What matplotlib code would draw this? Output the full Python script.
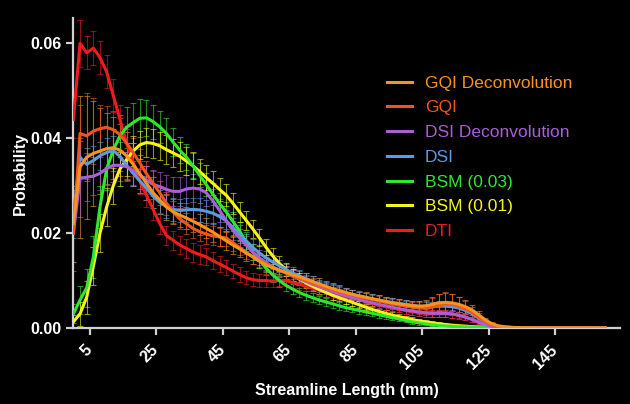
import matplotlib.pyplot as plt
import matplotlib.colors as mcolors

# streamline length bins (mm), probabilities given in units of 1e-3
lengths = list(range(0, 162, 2))

names = ['GQI Deconvolution', 'GQI', 'DSI Deconvolution', 'DSI',
         'BSM (0.03)', 'BSM (0.01)', 'DTI']
colors = ['#F7941D', '#F2541E', '#A95FD8', '#5B9BE0',
          '#2EE82E', '#F5F51A', '#EE1C1C']

gqi_dec = [22, 34, 36, 36.8, 37.3, 37.8, 38, 37.5, 36.3, 34.5,
           32.5, 30.5, 28.5, 27, 25.5, 24.5, 23.8, 23.2, 22.5, 21.8,
           21, 20.2, 19.3, 18.4, 17.5, 16.7, 15.8, 15, 14.1, 13.3,
           12.7, 12.2, 11.7, 11.2, 10.8, 10.3, 9.8, 9.3, 8.8, 8.3,
           7.9, 7.5, 7.1, 6.8, 6.5, 6.2, 5.9, 5.6, 5.3, 5.1,
           4.9, 4.7, 4.6, 4.7, 5, 5.3, 5.4, 5.3, 5, 4.5,
           3.8, 2.8, 1.7, 0.9, 0.45, 0.25, 0.15, 0.1, 0.06, 0.04,
           0.02, 0.02, 0.02, 0.02, 0.02, 0.02, 0.02, 0.02, 0.02, 0.02, 0.02]
gqi = [20, 41, 40.5, 41.5, 42, 42.3, 41.8, 40.8, 39, 37,
       34.8, 32.5, 30.5, 28.5, 26.3, 24.5, 23, 22, 21, 20.3,
       19.8, 19.4, 19.2, 19, 18, 17, 16, 15, 14.2, 13.5,
       12.8, 12.2, 11.6, 11, 10.5, 10, 9.5, 9, 8.5, 8.1,
       7.7, 7.3, 7, 6.6, 6.3, 6, 5.7, 5.4, 5.1, 4.9,
       4.6, 4.4, 4.2, 4.2, 4.4, 4.7, 5, 5, 4.6, 4,
       3.3, 2.3, 1.4, 0.7, 0.35, 0.2, 0.12, 0.08, 0.05, 0.03,
       0.02, 0.02, 0.02, 0.02, 0.02, 0.02, 0.02, 0.02, 0.02, 0.02, 0.02]
dsi_dec = [20, 31.5, 31.8, 32, 32.6, 33.6, 34.3, 34.3, 34, 33.2,
           32.3, 31.2, 30.3, 29.8, 29.2, 28.8, 28.8, 29.3, 29.5, 29.3,
           28.5, 26.8, 24.8, 22.6, 20.6, 19, 17.5, 16, 14.8, 13.8,
           12.9, 12.2, 11.6, 11, 10.4, 9.8, 9.2, 8.7, 8.2, 7.7,
           7.2, 6.8, 6.4, 6, 5.6, 5.3, 5, 4.7, 4.4, 4.1,
           3.8, 3.6, 3.4, 3.2, 3.1, 3.1, 3.1, 3, 2.7, 2.3,
           1.8, 1.2, 0.7, 0.35, 0.18, 0.1, 0.06, 0.04, 0.03, 0.02,
           0.01, 0.01, 0.01, 0.01, 0.01, 0.01, 0.01, 0.01, 0.01, 0.01, 0.01]
dsi = [24, 36, 34.5, 35.3, 36.3, 37, 37.4, 36.2, 34.3, 32.6,
       31, 29.5, 27.8, 26.5, 25.6, 25, 24.8, 24.9, 25, 24.9,
       24.6, 24.2, 23.5, 22.6, 21.2, 19.8, 18.4, 17, 15.8, 14.8,
       13.9, 13.1, 12.3, 11.6, 11, 10.4, 9.8, 9.2, 8.7, 8.2,
       7.8, 7.4, 7, 6.7, 6.4, 6.1, 5.9, 5.6, 5.4, 5.2,
       5, 4.8, 4.6, 4.5, 4.5, 4.6, 4.6, 4.5, 4.2, 3.7,
       3, 2.1, 1.3, 0.7, 0.35, 0.18, 0.1, 0.06, 0.04, 0.02,
       0.01, 0.01, 0.01, 0.01, 0.01, 0.01, 0.01, 0.01, 0.01, 0.01, 0.01]
bsm03 = [3, 5.9, 8.5, 15, 25.5, 33.5, 37.5, 40.5, 42.3, 43.3,
         44.2, 44.3, 43.5, 42.4, 41, 39.2, 37.5, 36, 34.2, 32.2,
         30.2, 28.2, 26.2, 24.5, 22.5, 20.5, 18, 16, 14.3, 12.6,
         11.2, 10, 9, 8.2, 7.5, 6.9, 6.4, 5.9, 5.5, 5.1,
         4.7, 4.3, 4, 3.7, 3.4, 3.1, 2.8, 2.5, 2.2, 1.9,
         1.6, 1.3, 1.1, 0.9, 0.7, 0.55, 0.45, 0.35, 0.28, 0.22,
         0.17, 0.13, 0.1, 0.08, 0.06, 0.05, 0.04, 0.03, 0.02, 0.02,
         0.01, 0.01, 0.01, 0.01, 0.01, 0.01, 0.01, 0.01, 0.01, 0.01, 0.01]
bsm01 = [1.3, 3, 6.5, 13, 20, 25.5, 30, 33.5, 35.5, 37.3,
         38.6, 39.1, 38.9, 38.4, 37.6, 36.9, 36.2, 35.2, 34.2, 33,
         31.7, 30.5, 29.2, 28, 26.3, 24.5, 22.7, 20.9, 19, 17,
         15.2, 13.6, 12.3, 11.2, 10.3, 9.5, 8.8, 8.1, 7.5, 6.9,
         6.4, 5.9, 5.4, 4.9, 4.4, 3.9, 3.5, 3.1, 2.7, 2.4,
         2.1, 1.8, 1.5, 1.3, 1.1, 0.9, 0.75, 0.6, 0.5, 0.4,
         0.3, 0.25, 0.2, 0.15, 0.12, 0.1, 0.08, 0.06, 0.05, 0.04,
         0.02, 0.02, 0.02, 0.02, 0.02, 0.02, 0.02, 0.02, 0.02, 0.02, 0.02]
dti = [44, 60, 58, 59, 57, 54, 49, 44, 39, 35,
       31, 28, 25, 22, 19.5, 18.5, 17.5, 16.8, 16, 15.5,
       15, 14.2, 13.5, 12.8, 12, 11.3, 10.6, 10.2, 10, 10,
       9.9, 10, 10, 9.6, 9.2, 8.8, 8.4, 8, 7.6, 7.2,
       6.9, 6.6, 6.3, 6, 5.6, 5.2, 4.8, 4.5, 4.2, 4,
       3.7, 3.4, 3.2, 3.1, 3.0, 3.0, 3.0, 2.9, 2.7, 2.3,
       1.8, 1.2, 0.7, 0.35, 0.15, 0.08, 0.05, 0.03, 0.02, 0.01,
       0, 0, 0, 0, 0, 0, 0, 0, 0, 0, 0]

# error bars (same units)
gqi_dec_err = [8, 15, 13, 11, 9, 7.5, 6.5, 5.5, 5, 4.5,
               4, 3.6, 3.3, 3, 2.8, 2.6, 2.5, 2.4, 2.3, 2.2,
               2.1, 2, 2, 1.9, 1.8, 1.7, 1.6, 1.6, 1.5, 1.5,
               1.4, 1.4, 1.3, 1.3, 1.3, 1.2, 1.2, 1.2, 1.1, 1.1,
               1.1, 1, 1, 1, 1, 1, 1, 1, 1, 1,
               1, 1, 1.1, 1.3, 1.6, 1.8, 2, 1.8, 1.6, 1.4,
               1.1, 0.8, 0.5, 0.3, 0.2, 0.1, 0, 0, 0, 0,
               0, 0, 0, 0, 0, 0, 0, 0, 0, 0, 0]
gqi_err = [8, 6, 9, 7, 5, 4.5, 4, 3.5, 3.5, 3,
           3, 2.8, 2.6, 2.5, 2.4, 2.3, 2.2, 2.2, 2.1, 2,
           2, 2, 1.9, 1.8, 1.7, 1.6, 1.5, 1.5, 1.4, 1.4,
           1.3, 1.3, 1.2, 1.2, 1.1, 1.1, 1.1, 1, 1, 1,
           1, 1, 1, 1, 1, 1, 1, 1, 1, 1,
           1, 1, 1.2, 1.5, 2, 2.4, 2.6, 2.2, 2, 1.6,
           1.2, 0.8, 0.5, 0.3, 0.2, 0.1, 0, 0, 0, 0,
           0, 0, 0, 0, 0, 0, 0, 0, 0, 0, 0]
dsi_dec_err = [6, 8, 5, 4, 3.5, 3.5, 3.5, 3.3, 3, 3,
               3, 3, 3, 3, 3, 3, 3, 3, 3, 3,
               2.8, 2.6, 2.4, 2.2, 2, 1.9, 1.8, 1.7, 1.6, 1.5,
               1.4, 1.3, 1.3, 1.2, 1.2, 1.1, 1.1, 1, 1, 1,
               1, 0.9, 0.9, 0.9, 0.9, 0.8, 0.8, 0.8, 0.8, 0.8,
               0.8, 0.8, 0.8, 0.8, 0.8, 0.8, 0.8, 0.8, 0.7, 0.6,
               0.5, 0.4, 0.3, 0.2, 0.1, 0, 0, 0, 0, 0,
               0, 0, 0, 0, 0, 0, 0, 0, 0, 0, 0]
dsi_err = [5, 4, 3.5, 3, 3, 3, 3, 3, 2.8, 2.7,
           2.6, 2.5, 2.5, 2.5, 2.5, 2.5, 2.5, 2.5, 2.5, 2.5,
           2.4, 2.3, 2.2, 2.1, 2, 1.9, 1.8, 1.7, 1.6, 1.5,
           1.4, 1.3, 1.3, 1.2, 1.2, 1.1, 1.1, 1, 1, 1,
           1, 1, 1, 1, 1, 1, 1, 1, 1, 1,
           1, 1, 1, 1, 1, 1, 1, 1, 0.9, 0.8,
           0.7, 0.5, 0.3, 0.2, 0.1, 0, 0, 0, 0, 0,
           0, 0, 0, 0, 0, 0, 0, 0, 0, 0, 0]
bsm03_err = [2, 3, 4, 4.5, 4.5, 4.5, 4.5, 4.5, 4.3, 4.2,
             4, 3.8, 3.6, 3.4, 3.2, 3, 2.8, 2.7, 2.6, 2.5,
             2.4, 2.3, 2.2, 2.1, 2, 1.9, 1.8, 1.7, 1.6, 1.5,
             1.4, 1.3, 1.2, 1.1, 1, 1, 0.9, 0.9, 0.8, 0.8,
             0.8, 0.7, 0.7, 0.7, 0.6, 0.6, 0.6, 0.5, 0.5, 0.5,
             0.4, 0.4, 0.4, 0.3, 0.3, 0.3, 0.2, 0.2, 0.2, 0.2,
             0.1, 0.1, 0.1, 0.1, 0, 0, 0, 0, 0, 0,
             0, 0, 0, 0, 0, 0, 0, 0, 0, 0, 0]
bsm01_err = [1.5, 2.5, 3.5, 4, 4, 4, 3.8, 3.6, 3.4, 3.2,
             3, 3, 3, 3, 3, 3, 3, 2.9, 2.8, 2.7,
             2.6, 2.5, 2.4, 2.3, 2.2, 2.1, 2, 1.9, 1.8, 1.7,
             1.6, 1.5, 1.4, 1.3, 1.2, 1.1, 1, 1, 0.9, 0.9,
             0.8, 0.8, 0.8, 0.7, 0.7, 0.7, 0.6, 0.6, 0.6, 0.5,
             0.5, 0.5, 0.4, 0.4, 0.4, 0.3, 0.3, 0.3, 0.2, 0.2,
             0.2, 0.1, 0.1, 0.1, 0, 0, 0, 0, 0, 0,
             0, 0, 0, 0, 0, 0, 0, 0, 0, 0, 0]
dti_err = [4, 5, 3.5, 3.5, 3.5, 3.5, 3.5, 3, 3, 3,
           2.8, 2.5, 2.3, 2.2, 2, 2, 2, 2, 2, 2,
           1.8, 1.8, 1.7, 1.6, 1.5, 1.5, 1.4, 1.4, 1.3, 1.3,
           1.2, 1.2, 1.2, 1.1, 1.1, 1, 1, 1, 1, 0.9,
           0.9, 0.9, 0.9, 0.8, 0.8, 0.8, 0.8, 0.8, 0.7, 0.7,
           0.7, 0.7, 0.7, 0.7, 0.7, 0.7, 0.7, 0.7, 0.6, 0.6,
           0.5, 0.4, 0.3, 0.2, 0.1, 0, 0, 0, 0, 0,
           0, 0, 0, 0, 0, 0, 0, 0, 0, 0, 0]

series = [gqi_dec, gqi, dsi_dec, dsi, bsm03, bsm01, dti]
errors = [gqi_dec_err, gqi_err, dsi_dec_err, dsi_err, bsm03_err, bsm01_err, dti_err]

plt.rcParams['font.family'] = ['Liberation Sans', 'DejaVu Sans']

fig = plt.figure(figsize=(6.3, 4.04), dpi=100, facecolor='black')
ax = fig.add_axes([0.1165, 0.188, 0.868, 0.767])
ax.set_facecolor('black')

# error bars first, lines drawn over them
for vals, err, c in zip(series, errors, colors):
    y = [v / 1000 for v in vals]
    e = [v / 1000 for v in err]
    ecol = mcolors.to_rgba(c, 0.6)
    ax.errorbar(lengths, y, yerr=e, fmt='none', ecolor=ecol,
                elinewidth=0.8, capsize=2, capthick=0.8, zorder=2)

handles = []
order = [6, 5, 4, 3, 2, 1, 0]
for i in order:
    y = [v / 1000 for v in series[i]]
    ln, = ax.plot(lengths, y, color=colors[i], lw=2.2, label=names[i],
                  zorder=3 + (6 - i))
    handles.append(ln)
handles = handles[::-1]

ax.set_xlim(0, 164.6)
ax.set_ylim(0, 0.0653)
ax.set_xticks([5, 25, 45, 65, 85, 105, 125, 145])
ax.set_yticks([0, 0.02, 0.04, 0.06])
ax.set_yticklabels(['0.00', '0.02', '0.04', '0.06'])

for side in ['top', 'right']:
    ax.spines[side].set_visible(False)
for side in ['left', 'bottom']:
    ax.spines[side].set_color('#D0D0D0')
    ax.spines[side].set_linewidth(1.6)

ax.tick_params(axis='both', colors='#D0D0D0', length=5, width=1.6,
               labelcolor='white', labelsize=11.5)
ax.tick_params(axis='x', pad=9)
for lbl in ax.get_yticklabels():
    lbl.set_fontweight('bold')
for lbl in ax.get_xticklabels():
    lbl.set_fontweight('bold')
    lbl.set_rotation(45)
    lbl.set_ha('right')
    lbl.set_va('center')
    lbl.set_rotation_mode('anchor')

ax.set_xlabel('Streamline Length (mm)', color='white', fontsize=11.5,
              fontweight='bold', labelpad=8)
ax.set_ylabel('Probability', color='white', fontsize=11.5,
              fontweight='bold', labelpad=2)

leg = ax.legend(handles=handles, loc='upper left',
                bbox_to_anchor=(0.603, 0.83), bbox_transform=fig.transFigure,
                frameon=False, fontsize=12.5, handlelength=1.45,
                handletextpad=0.75, labelspacing=0.55, borderaxespad=0)
for txt, c in zip(leg.get_texts(), colors):
    txt.set_color(c)

fig.savefig('out.png', dpi=100, facecolor='black')
